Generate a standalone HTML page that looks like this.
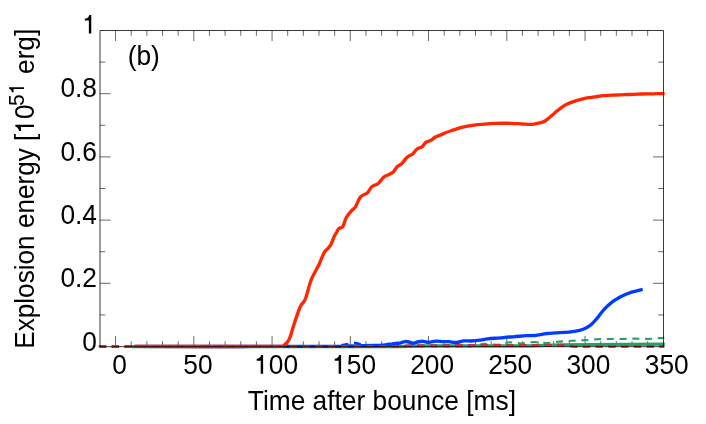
<!DOCTYPE html>
<html><head><meta charset="utf-8"><title>Explosion energy</title>
<style>
html,body{margin:0;padding:0;background:#fff;}
body{width:706px;height:424px;overflow:hidden;}
svg{display:block;will-change:transform;}
text{font-family:"Liberation Sans",sans-serif;font-size:27.0px;fill:#000;}
</style></head><body>
<svg width="706" height="424" viewBox="0 0 706 424">
<rect width="706" height="424" fill="#fff"/>
<path d="M115.55,346.5 v-10.5 M115.55,30.5 v10.5 M131.20,346.5 v-5.25 M131.20,30.5 v5.25 M146.85,346.5 v-5.25 M146.85,30.5 v5.25 M162.50,346.5 v-5.25 M162.50,30.5 v5.25 M178.15,346.5 v-5.25 M178.15,30.5 v5.25 M193.80,346.5 v-10.5 M193.80,30.5 v10.5 M209.45,346.5 v-5.25 M209.45,30.5 v5.25 M225.10,346.5 v-5.25 M225.10,30.5 v5.25 M240.75,346.5 v-5.25 M240.75,30.5 v5.25 M256.40,346.5 v-5.25 M256.40,30.5 v5.25 M272.05,346.5 v-10.5 M272.05,30.5 v10.5 M287.70,346.5 v-5.25 M287.70,30.5 v5.25 M303.35,346.5 v-5.25 M303.35,30.5 v5.25 M319.00,346.5 v-5.25 M319.00,30.5 v5.25 M334.65,346.5 v-5.25 M334.65,30.5 v5.25 M350.30,346.5 v-10.5 M350.30,30.5 v10.5 M365.95,346.5 v-5.25 M365.95,30.5 v5.25 M381.60,346.5 v-5.25 M381.60,30.5 v5.25 M397.25,346.5 v-5.25 M397.25,30.5 v5.25 M412.90,346.5 v-5.25 M412.90,30.5 v5.25 M428.55,346.5 v-10.5 M428.55,30.5 v10.5 M444.20,346.5 v-5.25 M444.20,30.5 v5.25 M459.85,346.5 v-5.25 M459.85,30.5 v5.25 M475.50,346.5 v-5.25 M475.50,30.5 v5.25 M491.15,346.5 v-5.25 M491.15,30.5 v5.25 M506.80,346.5 v-10.5 M506.80,30.5 v10.5 M522.45,346.5 v-5.25 M522.45,30.5 v5.25 M538.10,346.5 v-5.25 M538.10,30.5 v5.25 M553.75,346.5 v-5.25 M553.75,30.5 v5.25 M569.40,346.5 v-5.25 M569.40,30.5 v5.25 M585.05,346.5 v-10.5 M585.05,30.5 v10.5 M600.70,346.5 v-5.25 M600.70,30.5 v5.25 M616.35,346.5 v-5.25 M616.35,30.5 v5.25 M632.00,346.5 v-5.25 M632.00,30.5 v5.25 M647.65,346.5 v-5.25 M647.65,30.5 v5.25 M100.0,314.90 h5.25 M663.5,314.90 h-5.25 M100.0,283.30 h10.5 M663.5,283.30 h-10.5 M100.0,251.70 h5.25 M663.5,251.70 h-5.25 M100.0,220.10 h10.5 M663.5,220.10 h-10.5 M100.0,188.50 h5.25 M663.5,188.50 h-5.25 M100.0,156.90 h10.5 M663.5,156.90 h-10.5 M100.0,125.30 h5.25 M663.5,125.30 h-5.25 M100.0,93.70 h10.5 M663.5,93.70 h-10.5 M100.0,62.10 h5.25 M663.5,62.10 h-5.25" fill="none" stroke="#000" stroke-width="0.6"/>
<g fill="none" stroke-linejoin="round" stroke-linecap="butt">
<path d="M132.0,346.6 L400.0,346.6 L425.0,345.9 L530.0,345.8 L545.0,345.3 L560.0,344.9 L590.0,344.6 L625.0,344.4 L664.8,344.2" stroke="#26a064" stroke-width="3.3"/>
<path d="M134.7,346.4 C203.1,346.4 271.6,346.6 340.0,346.3 C351.7,346.3 363.3,345.9 375.0,345.5 C378.5,345.4 382.1,345.1 385.6,344.8 C388.0,344.6 390.3,344.1 392.7,343.8 C395.1,343.5 397.5,343.5 399.8,343.1 C401.5,342.8 403.0,341.8 404.7,341.6 C406.1,341.4 407.6,341.7 409.0,342.0 C410.4,342.3 411.7,343.3 413.2,343.3 C414.7,343.3 416.0,342.3 417.5,342.0 C419.4,341.6 421.3,341.2 423.2,341.3 C425.0,341.4 426.8,342.4 428.6,342.4 C431.2,342.4 433.6,341.2 436.2,341.1 C438.4,341.0 440.7,341.5 442.9,341.6 C444.9,341.7 446.9,341.5 448.9,341.6 C451.4,341.8 453.9,342.6 456.4,342.5 C458.9,342.4 461.3,341.2 463.8,340.9 C466.3,340.7 468.7,341.1 471.2,341.0 C474.0,340.9 476.9,340.6 479.7,340.2 C482.4,339.8 485.0,339.1 487.7,338.8 C492.0,338.3 496.2,338.3 500.5,337.9 C502.5,337.7 504.4,337.4 506.4,337.2 C508.7,337.0 510.9,337.0 513.2,336.8 C517.5,336.5 521.7,336.0 526.0,335.7 C529.0,335.5 532.0,335.7 535.0,335.5 C536.2,335.4 537.3,335.1 538.5,334.9 C541.3,334.4 544.1,333.8 547.0,333.5 C549.8,333.2 552.7,333.1 555.5,332.9 C558.3,332.7 561.2,332.6 564.0,332.4 C566.8,332.2 569.7,332.0 572.5,331.6 C574.8,331.3 577.1,330.9 579.3,330.4 C581.2,329.9 583.2,329.5 585.0,328.6 C587.2,327.5 589.4,326.1 591.3,324.5 C593.4,322.7 595.2,320.4 597.0,318.3 C599.0,315.9 600.7,313.3 602.7,311.0 C604.4,309.0 606.3,307.1 608.3,305.3 C610.1,303.7 612.0,302.1 614.0,300.7 C615.8,299.4 617.8,298.4 619.7,297.3 C621.5,296.3 623.4,295.3 625.3,294.5 C627.2,293.7 629.1,292.9 631.0,292.3 C632.9,291.7 634.8,291.3 636.7,290.8 C638.7,290.3 640.7,289.8 642.7,289.3" stroke="#003cff" stroke-width="3.35"/>
<path d="M134.7,346.4 C183.5,346.4 232.2,346.6 281.0,346.4 C281.8,346.4 282.6,346.3 283.3,345.9 C284.7,345.0 286.0,343.7 287.1,342.4 C288.2,341.1 289.1,339.7 289.7,338.2 C291.0,335.0 291.7,331.5 292.8,328.2 C294.0,324.4 295.2,320.6 296.5,316.9 C297.8,313.2 298.9,309.5 300.6,306.0 C301.7,303.8 303.9,302.2 304.9,300.0 C306.4,296.9 307.1,293.4 308.1,290.1 C309.2,286.6 309.9,283.0 311.2,279.6 C312.1,277.1 313.6,274.9 314.8,272.5 C316.1,269.9 317.6,267.4 318.9,264.7 C320.2,262.0 321.1,259.1 322.4,256.4 C323.2,254.6 324.0,252.7 325.2,251.0 C326.0,249.9 327.3,249.2 328.2,248.1 C329.3,246.9 330.4,245.6 331.1,244.2 C332.3,241.9 332.8,239.4 333.9,237.1 C334.7,235.4 335.7,233.8 336.7,232.1 C337.3,231.0 337.7,229.7 338.7,228.8 C339.8,227.8 341.9,227.9 342.7,226.7 C344.5,224.0 344.7,220.4 346.3,217.5 C347.6,215.1 349.4,213.1 351.2,211.1 C352.5,209.6 354.4,208.5 355.5,206.8 C357.5,203.7 358.1,199.7 360.5,196.9 C362.3,194.8 365.5,194.5 367.5,192.7 C369.3,191.1 369.9,188.3 371.8,186.7 C373.6,185.1 376.3,185.0 378.2,183.5 C380.4,181.7 381.6,178.9 383.8,177.1 C385.4,175.8 387.6,175.3 389.5,174.3 C390.8,173.6 392.3,173.0 393.3,172.0 C394.8,170.5 395.6,168.2 397.1,166.7 C398.3,165.5 400.1,165.0 401.3,163.9 C403.6,161.7 405.3,158.9 407.7,156.8 C409.1,155.5 411.2,155.2 412.7,154.0 C414.4,152.6 415.2,150.3 416.9,149.0 C418.3,147.9 420.4,148.0 421.9,146.9 C423.6,145.7 424.4,143.4 426.1,142.2 C427.6,141.1 429.5,141.1 431.1,140.2 C432.6,139.3 433.8,137.9 435.3,137.0 C436.9,136.1 438.7,135.8 440.3,135.1 C442.5,134.2 444.5,133.1 446.7,132.3 C449.0,131.4 451.4,130.7 453.7,129.9 C456.1,129.1 458.4,128.3 460.8,127.7 C463.6,127.0 466.5,126.4 469.3,125.9 C472.1,125.4 475.0,124.9 477.8,124.6 C481.8,124.2 485.9,123.8 489.9,123.6 C493.7,123.4 497.4,123.3 501.2,123.2 C504.5,123.2 507.9,123.2 511.2,123.3 C515.0,123.4 518.7,123.8 522.5,124.0 C525.8,124.2 529.1,124.6 532.4,124.4 C534.9,124.2 537.3,123.5 539.7,122.9 C541.5,122.4 543.5,122.0 545.1,121.0 C547.0,119.9 548.5,118.2 550.2,116.8 C551.9,115.4 553.6,113.9 555.3,112.5 C557.0,111.1 558.6,109.6 560.4,108.3 C562.0,107.1 563.7,105.9 565.5,104.9 C567.1,104.0 568.9,103.3 570.6,102.6 C572.3,101.9 574.0,101.4 575.7,100.8 C577.4,100.3 579.1,99.7 580.8,99.3 C582.5,98.9 584.2,98.5 585.9,98.2 C587.6,97.9 589.3,97.6 591.0,97.4 C592.3,97.2 593.7,97.1 595.0,96.9 C597.8,96.5 600.7,96.0 603.5,95.7 C606.3,95.4 609.2,95.4 612.0,95.2 C614.8,95.1 617.7,94.9 620.5,94.8 C623.3,94.7 626.2,94.6 629.0,94.5 C631.8,94.4 634.7,94.2 637.5,94.1 C640.3,94.0 643.2,94.0 646.0,93.9 C649.0,93.8 652.0,93.7 655.0,93.7 C658.2,93.6 661.4,93.6 664.6,93.6" stroke="#ff2600" stroke-width="3.35"/>
<path d="M98.8,346.5 L466.0,346.4 L466.0,345.9 L466.0,346.4 L470.0,346.4 L484.0,343.8 L497.0,344.9 L509.0,342.2 L521.0,343.5 L533.0,342.0 L547.0,343.1 L559.0,341.6 L572.0,340.7 L584.0,340.3 L597.0,339.2 L610.0,339.0 L622.0,339.0 L635.0,338.6 L648.0,339.0 L661.0,338.0 L664.3,337.7" stroke="#26a064" stroke-width="2.1" stroke-dasharray="7 5.75"/>
<path d="M99.4,346.5 L337.0,346.4 L341.0,345.4 L348.0,344.0 L351.0,343.3 L354.0,342.8 L357.0,343.1 L361.0,344.5 L364.0,345.9 L367.0,346.4 L400.0,346.4 L410.0,345.6 L560.0,345.5 L575.0,346.3 L664.3,346.3" stroke="#003cff" stroke-width="2.4" stroke-dasharray="7 5.75"/>
<path d="M98.8,346.5 L400.0,346.4 L410.0,345.6 L560.0,345.5 L575.0,346.3 L664.3,346.3" stroke="#ff2600" stroke-width="2.4" stroke-dasharray="7 5.75"/>
</g>
<path d="M100.0,346.7 V30.5 H663.5 V346.7 Z" fill="none" stroke="#000" stroke-width="0.78" stroke-linejoin="miter"/>
<g>
<text transform="translate(112.33,373.80) scale(0.975,1)" style="font-size:27.00px">0</text>
<text transform="translate(183.28,373.80) scale(0.975,1)" style="font-size:27.00px">50</text>
<path d="M8.9,0 H6.5 V-13.0 H2.5 V-15.0 C4.8,-15.1 6.3,-16.4 7.1,-18.7 H8.9 Z" transform="translate(254.22,373.80) scale(1.0)"/><text transform="translate(268.86,373.80) scale(0.975,1)" style="font-size:27.00px">00</text>
<path d="M8.9,0 H6.5 V-13.0 H2.5 V-15.0 C4.8,-15.1 6.3,-16.4 7.1,-18.7 H8.9 Z" transform="translate(332.18,373.80) scale(1.0)"/><text transform="translate(346.82,373.80) scale(0.975,1)" style="font-size:27.00px">50</text>
<text transform="translate(410.15,373.80) scale(0.975,1)" style="font-size:27.00px">200</text>
<text transform="translate(488.31,373.80) scale(0.975,1)" style="font-size:27.00px">250</text>
<text transform="translate(566.47,373.80) scale(0.975,1)" style="font-size:27.00px">300</text>
<text transform="translate(644.74,373.80) scale(0.975,1)" style="font-size:27.00px">350</text>
<text transform="translate(82.36,350.70) scale(0.975,1)" style="font-size:27.00px">0</text>
<text transform="translate(60.40,287.25) scale(0.975,1)" style="font-size:27.00px">0.2</text>
<text transform="translate(60.40,224.20) scale(0.975,1)" style="font-size:27.00px">0.4</text>
<text transform="translate(60.40,160.50) scale(0.975,1)" style="font-size:27.00px">0.6</text>
<text transform="translate(60.40,97.15) scale(0.975,1)" style="font-size:27.00px">0.8</text>
<path d="M8.9,0 H6.5 V-13.0 H2.5 V-15.0 C4.8,-15.1 6.3,-16.4 7.1,-18.7 H8.9 Z" transform="translate(82.36,33.60) scale(1.0)"/>
<text transform="translate(127.7,65.2) scale(0.975,1)">(b)</text>
<text transform="translate(247.8,410) scale(0.975,1)">Time after bounce [ms]</text>
<g transform="translate(34,348.8) rotate(-90)"><text transform="translate(0.00,0.00) scale(0.969,1)" style="font-size:27.00px">Explosion energy [</text><path d="M8.9,0 H6.5 V-13.0 H2.5 V-15.0 C4.8,-15.1 6.3,-16.4 7.1,-18.7 H8.9 Z" transform="translate(215.25,0.00) scale(1.0)"/><text transform="translate(229.80,0.00) scale(0.969,1)" style="font-size:27.00px">0</text><text transform="translate(242.85,-10.00) scale(0.969,1)" style="font-size:21.60px">5</text><path d="M8.9,0 H6.5 V-13.0 H2.5 V-15.0 C4.8,-15.1 6.3,-16.4 7.1,-18.7 H8.9 Z" transform="translate(254.49,-10.00) scale(0.8)"/><text transform="translate(274.90,0.00) scale(0.969,1)" style="font-size:27.00px">erg]</text></g>
</g>
</svg>
</body></html>
